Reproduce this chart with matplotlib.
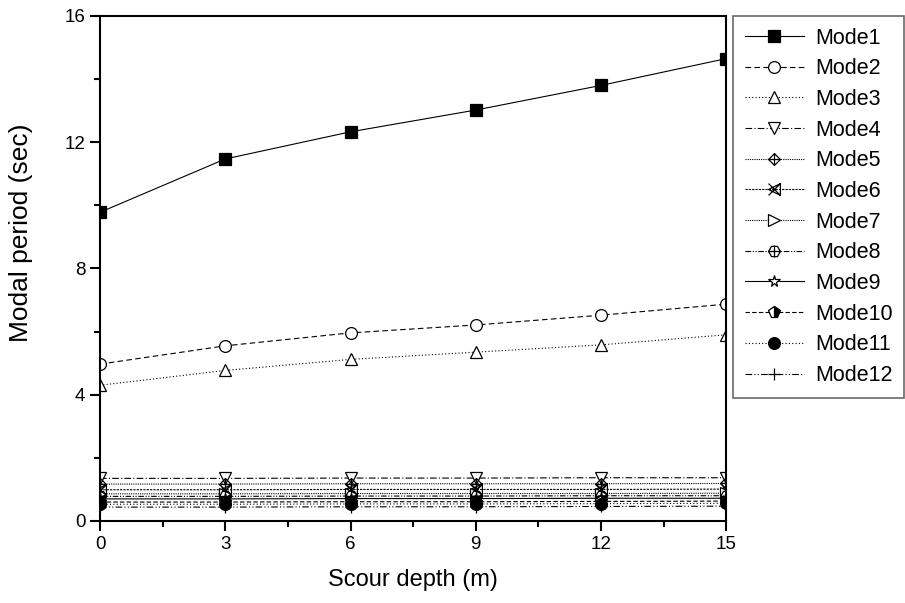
import matplotlib.pyplot as plt
import numpy as np
from matplotlib.path import Path

plt.rcParams['font.family'] = ['Liberation Sans', 'DejaVu Sans']

depth = [0, 3, 6, 9, 12, 15]
mode1 = [9.78, 11.47, 12.33, 13.02, 13.80, 14.65]
mode2 = [4.97, 5.55, 5.96, 6.21, 6.52, 6.87]
mode3 = [4.30, 4.77, 5.12, 5.35, 5.58, 5.90]
mode4 = [1.35, 1.35, 1.36, 1.36, 1.37, 1.37]
mode5 = [1.17, 1.17, 1.18, 1.18, 1.18, 1.19]
mode6 = [0.99, 0.99, 1.00, 1.00, 1.00, 1.01]
mode7 = [0.86, 0.86, 0.87, 0.87, 0.87, 0.88]
mode8 = [0.78, 0.78, 0.79, 0.79, 0.80, 0.80]
mode9 = [0.70, 0.70, 0.71, 0.71, 0.72, 0.72]
mode10 = [0.60, 0.60, 0.61, 0.61, 0.62, 0.63]
mode11 = [0.53, 0.53, 0.54, 0.54, 0.55, 0.56]
mode12 = [0.44, 0.44, 0.45, 0.45, 0.46, 0.47]
labels = ['Mode%d' % i for i in range(1, 13)]


def compound(*paths):
    return Path.make_compound_path(*paths)


def poly(n, rot=0.0, r=1.0):
    a = np.linspace(0, 2 * np.pi, n + 1) + rot
    return Path(np.c_[r * np.sin(a), r * np.cos(a)], closed=True)


plus = Path([[-1, 0], [1, 0], [0, -1], [0, 1]],
            [Path.MOVETO, Path.LINETO, Path.MOVETO, Path.LINETO])
cross = Path([[-1, -1], [1, 1], [-1, 1], [1, -1]],
             [Path.MOVETO, Path.LINETO, Path.MOVETO, Path.LINETO])
diamond_plus = compound(poly(4), plus)
hex_plus = compound(poly(6, rot=np.pi / 6), plus)
bow_x = compound(Path([[1, -1], [1, 1], [-1, 0], [1, -1]], closed=True), cross)

styles = [
    dict(marker='s', ls='-', mfc='black'),
    dict(marker='o', ls=(0, (5, 3)), mfc='white'),
    dict(marker='^', ls=(0, (1, 2)), mfc='white'),
    dict(marker='v', ls=(0, (6, 2, 1, 2)), mfc='white'),
    dict(marker=diamond_plus, ls=(0, (1, 1)), mfc='none'),
    dict(marker=bow_x, ls=(0, (2, 1)), mfc='none'),
    dict(marker='>', ls=(0, (1, 1)), mfc='white'),
    dict(marker=hex_plus, ls=(0, (5, 1.5, 1, 1.5, 1, 1.5)), mfc='none'),
    dict(marker='*', ls='-', mfc='white'),
    dict(marker='p', ls=(0, (4, 2)), mfc='black', fillstyle='right', mfcalt='white'),
    dict(marker='o', ls=(0, (1, 2)), mfc='black'),
    dict(marker='+', ls=(0, (6, 2, 1, 2, 1, 2)), mfc='black'),
]
series = [mode1, mode2, mode3, mode4, mode5, mode6, mode7, mode8,
          mode9, mode10, mode11, mode12]

fig = plt.figure(figsize=(9.05, 6.03), dpi=100)
ax = fig.add_axes([0.1105, 0.136, 0.692, 0.8375])

handles = []
for vals, lab, st in zip(series, labels, styles):
    kw = dict(color='black', lw=0.8, marker=st['marker'], linestyle=st['ls'],
              markersize=8.5, markeredgecolor='black', markeredgewidth=0.9,
              markerfacecolor=st['mfc'], label=lab)
    if 'fillstyle' in st:
        kw['fillstyle'] = st['fillstyle']
        kw['markerfacecoloralt'] = st['mfcalt']
    h, = ax.plot(depth, vals, **kw)
    handles.append(h)

ax.set_xlim(0, 15)
ax.set_ylim(0, 16)
ax.set_xticks([0, 3, 6, 9, 12, 15])
ax.set_xticks(np.arange(0, 15.1, 1.5), minor=True)
ax.set_yticks([0, 4, 8, 12, 16])
ax.set_yticks(np.arange(0, 16.1, 2), minor=True)
ax.tick_params(which='both', direction='out', width=1.5, labelsize=13.5,
               top=False, right=False)
ax.tick_params(which='major', length=7)
ax.tick_params(which='minor', length=4)
for s in ax.spines.values():
    s.set_linewidth(1.5)

ax.set_xlabel('Scour depth (m)', fontsize=17, labelpad=12)
ax.set_ylabel('Modal period (sec)', fontsize=19)
ax.yaxis.set_label_coords(-0.107, 0.57)

leg = fig.legend(handles=handles, loc='upper left',
                 bbox_to_anchor=(0.810, 0.974), fontsize=15.5,
                 fancybox=False, handlelength=2.75, handletextpad=0.5,
                 labelspacing=0.45, borderpad=0.55, borderaxespad=0)
leg.get_frame().set_edgecolor('#444444')
leg.get_frame().set_linewidth(1.2)

fig.savefig('out.png', dpi=100)
